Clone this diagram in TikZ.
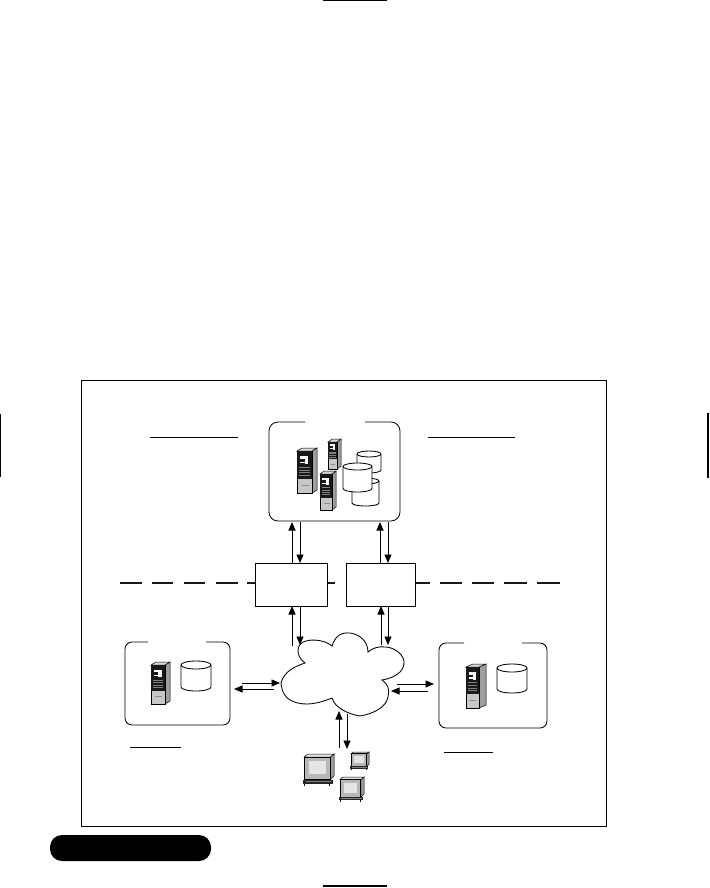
\documentclass[tikz,border=0pt]{standalone}
\usetikzlibrary{arrows.meta}
\definecolor{scrn}{gray}{0.72}
\definecolor{sidegray}{gray}{0.62}
\definecolor{panel}{gray}{0.78}
\tikzset{
  outline/.style={draw=black,line width=.85pt},
  link/.style={line width=.85pt,-{Triangle[length=8.5pt,width=7pt]}},
  hair/.style={line width=.85pt},
  dashrule/.style={line width=2pt,draw=black!90}
}
% server: x y front-width side-width height
\newcommand{\srv}[5]{%
\begin{scope}[shift={(#1,#2)}]
 \fill[sidegray,draw=black,line width=.5pt] (#3,3) -- (#3+#4,0) -- (#3+#4,#5-3) -- (#3,#5) -- cycle;
 \fill[white!85!black,draw=black,line width=.5pt] (0,3) -- (#4,0) -- (#3+#4,0) -- (#3,3) -- cycle;
 \fill[panel,draw=black,line width=.5pt] (0,3) rectangle (#3,#5);
 \fill[black!90] (0,3) rectangle (#3,#5*.68);
 \fill[white] (#3*.2,#5*.18) rectangle (#3*.75,#5*.24);
 \fill[white] (#3*.5,#5*.24) rectangle (#3*.75,#5*.36);
 \fill[white] (#3*.2,#5*.30) rectangle (#3*.5,#5*.34);
 \foreach \k in {.42,.48,.54,.60} \fill[gray] (#3*.15,#5*\k) rectangle (#3*.85,#5*\k+1);
 \fill[black!45] (#3*.3,#5*.82) rectangle (#3*.8,#5*.84);
\end{scope}}
% cylinder: x y width height ry
\newcommand{\cyl}[5]{%
\begin{scope}[shift={(#1,#2)}]
 \draw[outline,fill=white] (0,#5) -- (0,#4-#5) arc[start angle=180,end angle=0,x radius=#3/2,y radius=#5] -- (#3,#5) arc[start angle=0,end angle=-180,x radius=#3/2,y radius=#5] -- cycle;
 \draw[outline] (0,#5) arc[start angle=180,end angle=0,x radius=#3/2,y radius=#5];
\end{scope}}
% monitor: x y width height
\newcommand{\mon}[4]{%
\begin{scope}[shift={(#1,#2)}]
 \fill[sidegray,draw=black,line width=.5pt] (#3*.87,#4*.1) -- (#3,0) -- (#3,#4*.68) -- (#3*.87,#4*.8) -- cycle;
 \fill[white!90!black,draw=black,line width=.5pt] (0,#4*.1) -- (#3*.13,0) -- (#3,0) -- (#3*.87,#4*.1) -- cycle;
 \fill[scrn,draw=black,line width=.8pt] (0,#4*.1) rectangle (#3*.87,#4*.8);
 \fill[white!80!gray] (#3*.15,#4*.22) rectangle (#3*.72,#4*.62);
 \fill[black!85] (-#3*.05,#4*.8) rectangle (#3*.97,#4*.93);
 \fill[gray] (#3*.05,#4*.84) rectangle (#3*.9,#4*.88);
 \draw[line width=.8pt] (#3*.02,#4*.93) -- (#3*.02,#4) (#3*.85,#4*.93) -- (#3*.85,#4);
\end{scope}}
\begin{document}
\begin{tikzpicture}[x=1pt,y=-1pt]
\useasboundingbox (0,0) rectangle (709,888);
\fill[white] (0,0) rectangle (709,888);

% page marks
\draw[line width=1.4pt] (323,0.7) -- (387,0.7);
\draw[line width=1.2pt] (323,886) -- (387,886);
\draw[line width=1.2pt] (0.6,414) -- (0.6,477);
\draw[line width=1.2pt] (708,413) -- (708,478);

% frame
\node[outline,anchor=north west,minimum width=525pt,minimum height=446pt,inner sep=0pt,outer sep=0pt] (frame) at (81,380) {};

% dashed boundary
\foreach \a/\b in {120/142,152/173,184/205,216/238,247/255,327/335,415/430,440/462,472/494,504/527,537/560}
  \draw[dashrule] (\a,583) -- (\b,583);

% gateway boxes
\node[outline,fill=white,anchor=north west,minimum width=72pt,minimum height=43pt,inner sep=0pt,outer sep=0pt] (gwL) at (255,563) {};
\node[outline,fill=white,anchor=north west,minimum width=69pt,minimum height=43pt,inner sep=0pt,outer sep=0pt] (gwR) at (346,563) {};

% site boxes: anchors (outline drawn open, leaving the gap in the top edge)
\node[anchor=north west,minimum width=131pt,minimum height=99pt,inner sep=0pt,outer sep=0pt] (top) at (269,422) {};
\node[anchor=north west,minimum width=105pt,minimum height=83pt,inner sep=0pt,outer sep=0pt] (siteL) at (125,642) {};
\node[anchor=north west,minimum width=108pt,minimum height=85pt,inner sep=0pt,outer sep=0pt] (siteR) at (439,643) {};
\draw[outline,rounded corners=9pt] (305,422) -- (top.north west) -- (top.south west) -- (top.south east) -- (top.north east) -- (365,422);
\draw[outline,rounded corners=7pt] (148,642) -- (siteL.north west) -- (siteL.south west) -- (siteL.south east) -- (siteL.north east) -- (206,642);
\draw[outline,rounded corners=7pt] (464,643) -- (siteR.north west) -- (siteR.south west) -- (siteR.south east) -- (siteR.north east) -- (522,643);

% label rules
\draw[hair] (150,437) -- (238,437);
\draw[hair] (428,437) -- (515,437);
\draw[hair] (130,747) -- (181,747);
\draw[hair] (444,752) -- (493,752);

% cloud
\draw[outline,fill=white]
  (305,663) .. controls (296,666) and (284,671) .. (281,683)
  .. controls (282,692) and (285,698) .. (292,701)
  .. controls (305,707) and (320,703) .. (332,698)
  .. controls (335,708) and (348,714) .. (360,716)
  .. controls (372,714) and (386,708) .. (388,697)
  .. controls (390,690) and (388,684) .. (382,680)
  .. controls (394,678) and (405,672) .. (404,661)
  .. controls (402,652) and (392,647) .. (385,647)
  .. controls (380,646) and (372,648) .. (368,652)
  .. controls (368,640) and (358,634) .. (350,633)
  .. controls (340,632) and (335,637) .. (332,646)
  .. controls (325,640) and (313,639) .. (306,641)
  .. controls (296,643) and (295,656) .. (305,663) -- cycle;

% connectors
\coordinate (tA) at (292,522); \coordinate (tB) at (300,522);
\coordinate (tC) at (380,522); \coordinate (tD) at (388,522);
\draw[link] (gwL.north -| tA) -- (tA);
\draw[link] (tB) -- (gwL.north -| tB);
\draw[link] (gwR.north -| tC) -- (tC);
\draw[link] (tD) -- (gwR.north -| tD);

\coordinate (cA) at (292,646); \coordinate (cB) at (300,645);
\coordinate (cC) at (381,645); \coordinate (cD) at (388,645);
\draw[link] (cA) -- (gwL.south -| cA);
\draw[link] (gwL.south -| cB) -- (cB);
\draw[link] (cC) -- (gwR.south -| cC);
\draw[link] (gwR.south -| cD) -- (cD);

\coordinate (lA) at (242,683); \coordinate (lB) at (280,683);
\coordinate (lC) at (274,689); \coordinate (lD) at (234,689);
\draw[link] (lA) -- (lB);
\draw[link] (lC) -- (lD);
\coordinate (rA) at (397,684); \coordinate (rB) at (434,684);
\coordinate (rC) at (428,691); \coordinate (rD) at (391,691);
\draw[link] (rA) -- (rB);
\draw[link] (rC) -- (rD);

\coordinate (bA) at (339,748); \coordinate (bB) at (339,711);
\coordinate (bC) at (347,714); \coordinate (bD) at (347,749);
\draw[link] (bA) -- (bB);
\draw[link] (bC) -- (bD);

% top site contents
\srv{297}{448}{15}{5}{45}
\srv{328}{439}{9}{4}{30}
\srv{320}{471}{12}{4}{39}
\cyl{357}{451}{24}{22}{3}
\cyl{352}{478}{27}{28}{3}
\cyl{343}{463}{29}{29}{3.5}

% side site contents
\srv{151}{662}{14}{5}{42}
\cyl{181}{661}{30}{30}{4}
\srv{466}{664}{13}{7}{44}
\cyl{497}{664}{30}{29}{4}

% clients
\mon{304}{754}{30}{32}
\mon{351}{752}{18}{18}
\mon{340}{777}{24}{25}

% bottom pill
\node[fill=black,rounded corners=12pt,anchor=north west,minimum width=161pt,minimum height=26pt,inner sep=0pt,outer sep=0pt] (tag) at (50,835) {};
\end{tikzpicture}
\end{document}
